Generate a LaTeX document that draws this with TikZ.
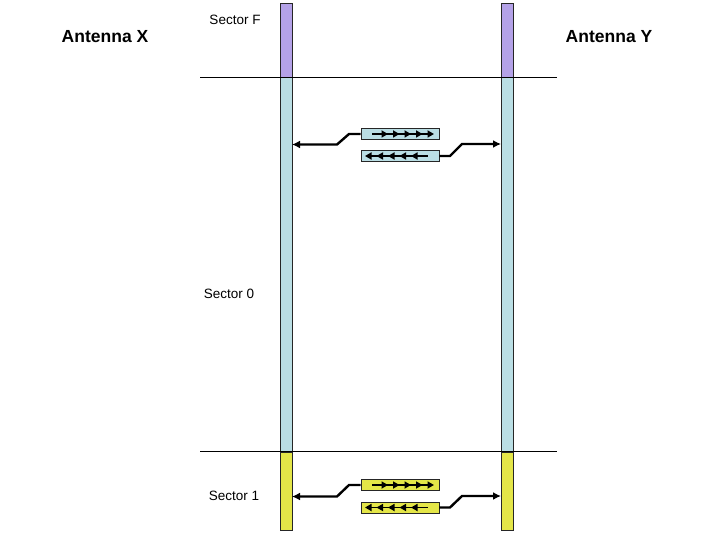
\documentclass[tikz,border=0pt]{standalone}
\usepackage{fontspec}
\setmainfont{Liberation Sans}
\usetikzlibrary{arrows.meta}
\definecolor{cpurple}{RGB}{180,162,232}
\definecolor{cblue}{RGB}{186,222,228}
\definecolor{cyel}{RGB}{228,230,72}
\tikzset{
  bar/.style={draw=black!85, line width=0.8pt, minimum width=12pt, inner sep=0pt, anchor=north west},
  pkt/.style={draw=black!85, line width=0.8pt, minimum width=78pt, minimum height=11pt, inner sep=0pt},
  conn/.style={line width=2.4pt, -{Latex[length=8pt,width=8pt]}},
  tick/.style={line width=1.8pt, -{Triangle[length=6.5pt,width=7pt]}},
  tline/.style={line width=1.8pt},
  sect/.style={font=\fontsize{13.5}{15}\selectfont, inner sep=0pt},
  ant/.style={font=\fontsize{17.5}{19}\selectfont\bfseries, inner sep=0pt},
  sep/.style={line width=0.6pt}
}
\begin{document}
\begin{tikzpicture}[x=1pt,y=-1pt]
\useasboundingbox (0,0) rectangle (720,540);
% bars
\node[bar, fill=cpurple, minimum height=74pt] (LF) at (280,3) {};
\node[bar, fill=cblue, minimum height=375pt] (L0) at (280,77) {};
\node[bar, fill=cyel, minimum height=78pt] (L1) at (280,452) {};
\node[bar, fill=cpurple, minimum height=74pt] (RF) at (501,3) {};
\node[bar, fill=cblue, minimum height=375pt] (R0) at (501,77) {};
\node[bar, fill=cyel, minimum height=78pt] (R1) at (501,452) {};
% separators
\coordinate (s1a) at (200,77); \coordinate (s1b) at (557,77);
\coordinate (s2a) at (200,451); \coordinate (s2b) at (557,451);
\draw[sep] (s1a) -- (s1b);
\draw[sep] (s2a) -- (s2b);
% labels
\node[ant] (ax) at (105,37) {Antenna X};
\node[ant] (ay) at (609,37) {Antenna Y};
\node[sect] (sf) at (235,20) {Sector F};
\node[sect] (s0) at (229,294) {Sector 0};
\node[sect] (s1) at (234,496) {Sector 1};
% upper packets
\node[pkt, fill=cblue] (u1) at (400,134) {};
\node[pkt, fill=cblue] (u2) at (400,156) {};
\draw[tline] (372,134) -- (428,134);
\foreach \x in {388,399.5,411,422.5,434} \draw[tick] (\x-6,134) -- (\x,134);
\draw[tline] (372,156) -- (428,156);
\foreach \x in {365,376.5,388,399.5,411} \draw[tick] (\x+6,156) -- (\x,156);
\coordinate (ul) at (292,144.5);
\coordinate (ur) at (501,144);
\draw[conn] (u1.west) -- (349,134) -- (337,144.5) -- (ul);
\draw[conn] (u2.east) -- (450,156) -- (462,144) -- (ur);
% lower packets
\node[pkt, fill=cyel] (d1) at (400,485) {};
\node[pkt, fill=cyel] (d2) at (400,507.5) {};
\draw[tline] (372,485) -- (428,485);
\foreach \x in {388,399.5,411,422.5,434} \draw[tick] (\x-6,485) -- (\x,485);
\draw[tline] (372,507.5) -- (428,507.5);
\foreach \x in {365,376.5,388,399.5,411} \draw[tick] (\x+6,507.5) -- (\x,507.5);
\coordinate (dl) at (292,496.5);
\coordinate (dr) at (501,496);
\draw[conn] (d1.west) -- (349,485) -- (337,496.5) -- (dl);
\draw[conn] (d2.east) -- (450,507.5) -- (462,496) -- (dr);
\end{tikzpicture}
\end{document}
